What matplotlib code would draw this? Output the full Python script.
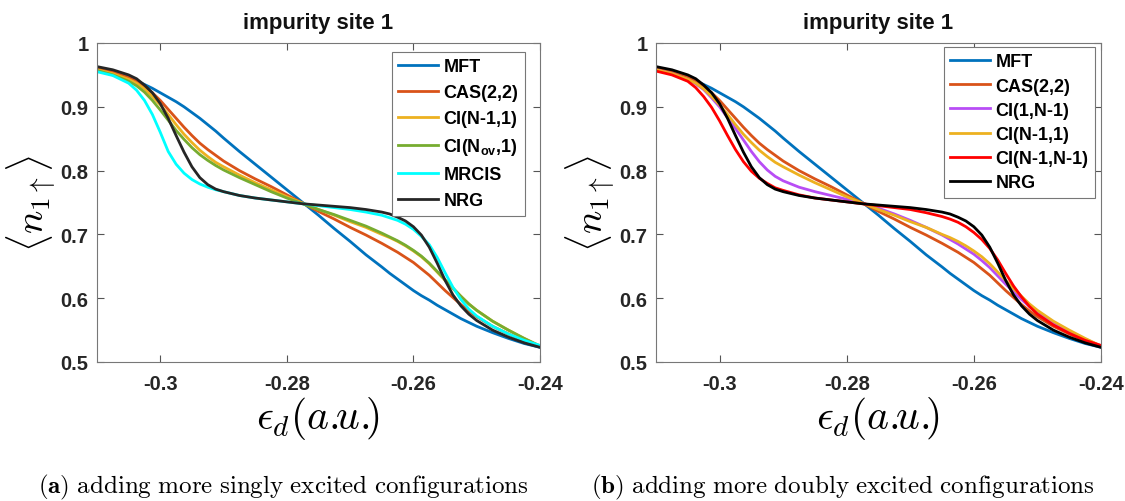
import numpy as np
import matplotlib
matplotlib.use("Agg")
import matplotlib.pyplot as plt
from matplotlib.font_manager import FontProperties

plt.rcParams['font.family'] = ['Liberation Sans', 'DejaVu Sans']
plt.rcParams['axes.unicode_minus'] = False
plt.rcParams['mathtext.fontset'] = 'custom'
plt.rcParams['mathtext.rm'] = 'Liberation Sans:bold'
plt.rcParams['mathtext.it'] = 'Liberation Sans:bold'
plt.rcParams['mathtext.bf'] = 'Liberation Sans:bold'

# ---------------- data ----------------
eps_d = [-0.31, -0.3075, -0.305, -0.30375, -0.3025, -0.30125, -0.30, -0.29875, -0.2975, -0.29625,
         -0.295, -0.29375, -0.2925, -0.29125, -0.29, -0.2875, -0.285, -0.2825, -0.28, -0.2775,
         -0.275, -0.2725, -0.27, -0.2675, -0.265, -0.26375, -0.2625, -0.26125, -0.26, -0.25875,
         -0.2575, -0.25625, -0.255, -0.25375, -0.2525, -0.25125, -0.25, -0.2475, -0.245, -0.2425,
         -0.24]

mft = [0.962, 0.955, 0.946, 0.941, 0.935, 0.929, 0.922, 0.915, 0.908, 0.900,
       0.891, 0.882, 0.872, 0.862, 0.851, 0.830, 0.810, 0.790, 0.770, 0.750,
       0.730, 0.709, 0.689, 0.668, 0.649, 0.639, 0.630, 0.621, 0.612, 0.604,
       0.597, 0.589, 0.582, 0.575, 0.568, 0.562, 0.556, 0.546, 0.537, 0.529,
       0.523]
nrg = [0.963, 0.958, 0.950, 0.944, 0.934, 0.922, 0.905, 0.882, 0.855, 0.829,
       0.806, 0.789, 0.778, 0.771, 0.767, 0.761, 0.757, 0.754, 0.751, 0.748,
       0.746, 0.744, 0.742, 0.739, 0.735, 0.732, 0.727, 0.721, 0.712, 0.699,
       0.680, 0.655, 0.628, 0.605, 0.588, 0.575, 0.565, 0.550, 0.539, 0.530,
       0.523]
mrcis = [0.955, 0.949, 0.937, 0.926, 0.910, 0.888, 0.860, 0.830, 0.810, 0.796,
         0.786, 0.779, 0.774, 0.770, 0.767, 0.761, 0.757, 0.754, 0.751, 0.748,
         0.745, 0.742, 0.739, 0.735, 0.730, 0.726, 0.722, 0.716, 0.708, 0.697,
         0.684, 0.664, 0.640, 0.617, 0.598, 0.583, 0.572, 0.556, 0.544, 0.534,
         0.526]
cas22 = [0.960, 0.954, 0.946, 0.940, 0.932, 0.922, 0.910, 0.896, 0.882, 0.868,
         0.855, 0.843, 0.833, 0.824, 0.815, 0.800, 0.787, 0.775, 0.762, 0.749,
         0.736, 0.724, 0.711, 0.699, 0.686, 0.679, 0.672, 0.664, 0.656, 0.646,
         0.636, 0.624, 0.612, 0.601, 0.590, 0.580, 0.571, 0.556, 0.544, 0.533,
         0.524]
ci_n1_1 = [0.958, 0.952, 0.943, 0.937, 0.928, 0.916, 0.903, 0.888, 0.872, 0.857,
           0.844, 0.832, 0.822, 0.813, 0.806, 0.793, 0.781, 0.770, 0.759, 0.749,
           0.739, 0.730, 0.720, 0.711, 0.700, 0.695, 0.689, 0.682, 0.674, 0.665,
           0.654, 0.641, 0.628, 0.615, 0.603, 0.591, 0.581, 0.564, 0.550, 0.537,
           0.525]
ci_nov_1 = [0.957, 0.950, 0.940, 0.933, 0.923, 0.910, 0.895, 0.879, 0.863, 0.849,
            0.836, 0.825, 0.816, 0.808, 0.801, 0.789, 0.778, 0.767, 0.757, 0.748,
            0.739, 0.731, 0.722, 0.713, 0.702, 0.696, 0.690, 0.683, 0.675, 0.666,
            0.655, 0.642, 0.629, 0.616, 0.603, 0.591, 0.581, 0.564, 0.550, 0.537,
            0.525]
ci_1_n1 = [0.958, 0.952, 0.943, 0.936, 0.927, 0.914, 0.900, 0.883, 0.866, 0.848,
           0.830, 0.814, 0.801, 0.791, 0.784, 0.774, 0.767, 0.761, 0.755, 0.749,
           0.741, 0.732, 0.722, 0.711, 0.699, 0.692, 0.685, 0.677, 0.669, 0.659,
           0.648, 0.635, 0.622, 0.610, 0.598, 0.587, 0.577, 0.561, 0.548, 0.536,
           0.525]
ci_n1_n1 = [0.956, 0.950, 0.940, 0.930, 0.916, 0.899, 0.878, 0.855, 0.833, 0.814,
            0.799, 0.788, 0.780, 0.773, 0.769, 0.762, 0.757, 0.754, 0.751, 0.748,
            0.745, 0.742, 0.739, 0.734, 0.728, 0.724, 0.719, 0.712, 0.703, 0.692,
            0.678, 0.660, 0.639, 0.619, 0.602, 0.587, 0.575, 0.558, 0.545, 0.534,
            0.526]

xticks = [-0.3, -0.28, -0.26, -0.24]
xticklabels = ['-0.3', '-0.28', '-0.26', '-0.24']
yticks = [0.5, 0.6, 0.7, 0.8, 0.9, 1.0]
yticklabels = ['0.5', '0.6', '0.7', '0.8', '0.9', '1']

panel_a = [("MFT", mft, '#0072BD'),
           ("CAS(2,2)", cas22, '#D95319'),
           ("CI(N-1,1)", ci_n1_1, '#EDB120'),
           (r"CI(N$_{ov}$,1)", ci_nov_1, '#77AC30'),
           ("MRCIS", mrcis, '#00FFFF'),
           ("NRG", nrg, '#262626')]
panel_b = [("MFT", mft, '#0072BD'),
           ("CAS(2,2)", cas22, '#D95319'),
           ("CI(1,N-1)", ci_1_n1, '#B84DF5'),
           ("CI(N-1,1)", ci_n1_1, '#EDB120'),
           ("CI(N-1,N-1)", ci_n1_n1, '#FF0000'),
           ("NRG", nrg, '#000000')]

title = "impurity site 1"
captions = [r"$\mathbf{(a)}\ \mathrm{adding\ more\ singly\ excited\ configurations}$",
            r"$\mathbf{(b)}\ \mathrm{adding\ more\ doubly\ excited\ configurations}$"]

# ---------------- figure ----------------
W, H = 1125, 502
fig = plt.figure(figsize=(W / 100, H / 100), dpi=100)

axes_px = [(97, 540), (656, 1101)]
top_px, bot_px = 44, 363
legend_boxes = [(392, 53, 0.5), (944, 48, 0.4)]
caption_cx = [283, 843]

for i, (panel, (x0, x1)) in enumerate(zip([panel_a, panel_b], axes_px)):
    ax = fig.add_axes([x0 / W, 1 - bot_px / H, (x1 - x0) / W, (bot_px - top_px) / H])
    for lab, vals, col in panel:
        ax.plot(eps_d, vals, color=col, lw=2.0, label=lab)
    ax.set_xlim(-0.31, -0.24)
    ax.set_ylim(0.5, 1.0)
    ax.set_xticks(xticks)
    ax.set_xticklabels(xticklabels)
    ax.set_yticks(yticks)
    ax.set_yticklabels(yticklabels)
    ax.tick_params(direction='in', top=True, right=True, length=5, width=0.8,
                   colors='#555555', labelcolor='#262626', labelsize=14.5)
    ax.tick_params(axis='x', pad=9)
    ax.tick_params(axis='y', pad=6)
    for lbl in ax.get_xticklabels() + ax.get_yticklabels():
        lbl.set_fontweight('bold')
    for sp in ax.spines.values():
        sp.set_color('#777777')
        sp.set_linewidth(0.8)
    ax.set_title(title, fontsize=16, fontweight='bold', color='#111111', pad=11)
    ax.set_xlabel(r"$\epsilon_d(a.\!\!u.\!\!)$", fontsize=30, math_fontfamily='cm', labelpad=0)
    ax.set_ylabel(r"$\langle n_{1\uparrow}\rangle$", fontsize=28, math_fontfamily='cm', labelpad=2)

    lx, ly, lsp = legend_boxes[i]
    leg = ax.legend(loc='upper left',
                    bbox_to_anchor=((lx - x0) / (x1 - x0), (bot_px - ly) / (bot_px - top_px)),
                    prop=FontProperties(family='Liberation Sans', weight='bold', size=13),
                    frameon=True, fancybox=False, edgecolor='#777777', framealpha=1,
                    handlelength=2.2, handletextpad=0.3, labelspacing=lsp,
                    borderpad=0.35, borderaxespad=0.0)
    leg.get_frame().set_linewidth(0.8)

    fig.text(caption_cx[i] / W, 1 - 487 / H, captions[i], ha='center', va='center',
             fontsize=18, math_fontfamily='cm')

fig.savefig("out.png", dpi=100, facecolor='white')
